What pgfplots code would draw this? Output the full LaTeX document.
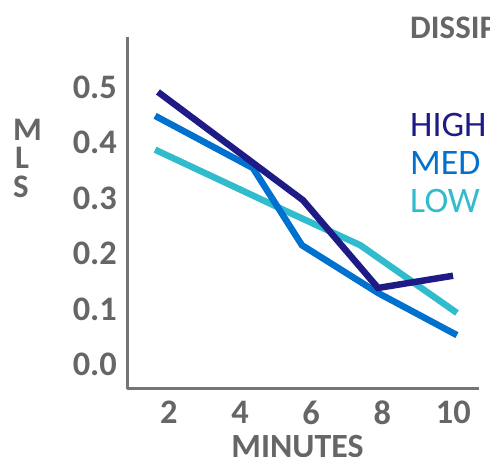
\documentclass[border=0pt]{standalone}
\usepackage{fontspec}
\setmainfont{Carlito}
\usepackage{pgfplots}
\pgfplotsset{compat=1.18}

\definecolor{high}{HTML}{1E1B87}
\definecolor{med}{HTML}{0071CE}
\definecolor{low}{HTML}{30BCCD}
\definecolor{txtgray}{HTML}{666666}
\definecolor{axgray}{HTML}{757575}

\begin{document}
\begin{tikzpicture}[x=1bp,y=1bp]
\useasboundingbox (0,0) rectangle (490,457);
\clip (0,0) rectangle (490,457);
\begin{axis}[
    at={(127bp,68bp)}, anchor=south west,
    scale only axis,
    width=352bp, height=352bp,
    xmin=0.82, xmax=10.72,
    ymin=-0.044, ymax=0.59,
    axis x line=bottom, axis y line=left,
    axis line style={-, draw=axgray, line width=3bp},
    xtick={2,4,6,8,10},
    ytick={0,0.1,0.2,0.3,0.4,0.5},
    major tick length=0pt,
    tick style={draw=none},
    /pgf/number format/assume math mode=true,
    yticklabel style={/pgf/number format/fixed, /pgf/number format/fixed zerofill,
        /pgf/number format/precision=1, inner sep=0pt, xshift=-10bp},
    xticklabel style={inner sep=0pt, yshift=-12bp},
    tick label style={font=\fontsize{34.5}{38}\selectfont\bfseries, text=txtgray},
    line cap=butt, line join=miter,
]

% LOW
\addplot[color=low, line width=6.5bp] coordinates {
    (1.61, 0.387) (5.41, 0.273) (7.38, 0.215) (10.10, 0.093)
};

% MED
\addplot[color=med, line width=6.5bp] coordinates {
    (1.61, 0.448) (4.36, 0.354) (5.74, 0.215) (7.88, 0.129) (10.10, 0.053)
};

% HIGH
\addplot[color=high, line width=6.5bp] coordinates {
    (1.69, 0.491) (5.77, 0.296) (7.88, 0.138) (9.99, 0.160)
};
\end{axis}

% titles and legend
\node[anchor=base, inner sep=0pt, text=txtgray, font=\fontsize{34}{38}\selectfont\bfseries]
    at (297.5, -0.5) {MINUTES};
\node[anchor=base west, inner sep=0pt, text=txtgray, font=\fontsize{33}{36}\selectfont\bfseries]
    at (410, 418) {DISSIPATION};
\begin{scope}[every node/.style={anchor=base west, inner sep=0pt, font=\fontsize{33}{36}\selectfont\bfseries, text=txtgray}]
\node at (13, 316) {M};
\node at (15, 288) {L};
\node at (13, 259) {S};
\end{scope}
\begin{scope}[every node/.style={anchor=base west, inner sep=0pt, font=\fontsize{36}{40}\selectfont}]
\node[text=high] at (410, 320) {HIGH};
\node[text=med] at (410, 282) {MED};
\node[text=low] at (410, 244) {LOW};
\end{scope}
\end{tikzpicture}
\end{document}
